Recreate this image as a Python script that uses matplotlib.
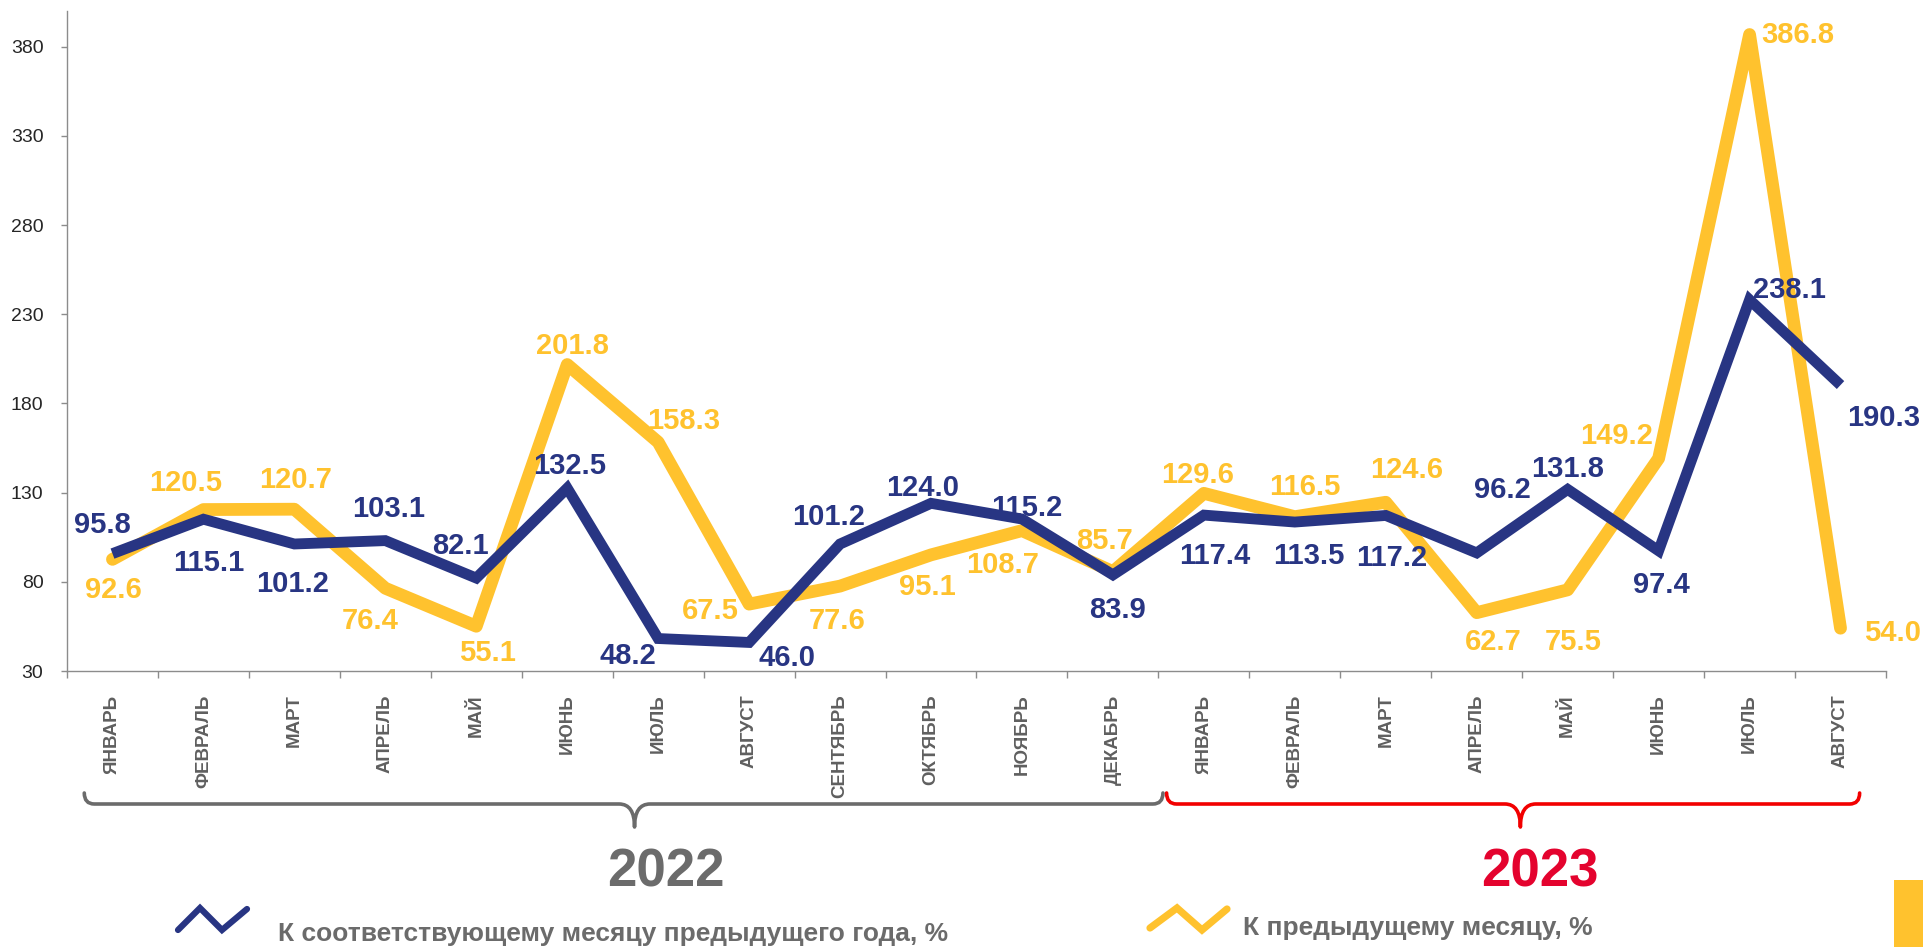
import matplotlib
matplotlib.use("Agg")
from matplotlib import pyplot as plt
from matplotlib.path import Path
from matplotlib.patches import PathPatch, Rectangle
from matplotlib.lines import Line2D
from matplotlib.transforms import blended_transform_factory
import numpy as np

plt.rcParams["font.family"] = ["Liberation Sans", "DejaVu Sans"]

MONTHS = ["ЯНВАРЬ", "ФЕВРАЛЬ", "МАРТ", "АПРЕЛЬ", "МАЙ", "ИЮНЬ", "ИЮЛЬ", "АВГУСТ",
          "СЕНТЯБРЬ", "ОКТЯБРЬ", "НОЯБРЬ", "ДЕКАБРЬ",
          "ЯНВАРЬ", "ФЕВРАЛЬ", "МАРТ", "АПРЕЛЬ", "МАЙ", "ИЮНЬ", "ИЮЛЬ", "АВГУСТ"]
# к соответствующему месяцу предыдущего года, %
YOY = [95.8, 115.1, 101.2, 103.1, 82.1, 132.5, 48.2, 46.0, 101.2, 124.0, 115.2, 83.9,
       117.4, 113.5, 117.2, 96.2, 131.8, 97.4, 238.1, 190.3]
# к предыдущему месяцу, %
MOM = [92.6, 120.5, 120.7, 76.4, 55.1, 201.8, 158.3, 67.5, 77.6, 95.1, 108.7, 85.7,
       129.6, 116.5, 124.6, 62.7, 75.5, 149.2, 386.8, 54.0]
YEARS = ["2022", "2023"]
LEGEND = ["К соответствующему месяцу предыдущего года, %", "К предыдущему месяцу, %"]

BLUE = "#283583"
YELLOW = "#FFC22E"
GRAY = "#6b6b6b"
RED = "#F20000"
RED_TXT = "#E4032E"

W, H = 1924, 947

# label offsets in pixels: (right, down) from the point
YOY_OFF = [(-10, -31), (5, 41), (-2, 38), (3, -34), (-16, -35), (2, -25), (-30, 15),
           (38, 13), (-12, -29), (-8, -18), (5, -14), (5, 33), (11, 38), (14, 31),
           (6, 40), (26, -65), (0, -23), (3, 32), (40, -12), (43, 30)]
MOM_OFF = [(1, 28), (-18, -29), (1, -32), (-15, 30), (11, 24), (5, -21), (25, -24),
           (-39, 4), (-3, 32), (-4, 30), (-19, 32), (-8, -33), (-6, -21), (10, -32),
           (21, -35), (17, 27), (6, 50), (-42, -25), (48, -2), (52, 2)]


def px(x, y):
    """pixel coords (top-left origin) -> figure fraction"""
    return x / W, 1 - y / H


fig = plt.figure(figsize=(W / 100, H / 100), dpi=100)
ax = fig.add_axes([67 / W, 1 - 671 / H, (1886 - 67) / W, (671 - 11) / H])

x = np.arange(len(MONTHS))
ax.plot(x, MOM, color=YELLOW, lw=9.2, solid_capstyle="round",
        solid_joinstyle="round", zorder=2)
ax.plot(x, YOY, color=BLUE, lw=7.8, solid_capstyle="butt",
        solid_joinstyle="miter", zorder=4)

for vals, offs, col in [(MOM, MOM_OFF, YELLOW), (YOY, YOY_OFF, BLUE)]:
    for i, (v, (dx, dy)) in enumerate(zip(vals, offs)):
        ax.annotate(f"{v:.1f}", (i, v), xytext=(dx, -dy - 10.5),
                    textcoords="offset pixels", ha="center", va="baseline",
                    fontsize=21, fontweight="bold", color=col, zorder=3,
                    annotation_clip=False)

ax.set_xlim(-0.5, len(MONTHS) - 0.5)
ax.set_ylim(30, 400)
ax.set_yticks(np.arange(30, 381, 50))
ax.set_xticks(x)
ax.set_xticklabels(MONTHS, rotation=90, fontsize=13.5, fontweight="bold", color="#5f5f5f")
ax.set_xticks(np.arange(-0.5, len(MONTHS)), minor=True)
ax.tick_params(axis="x", which="major", length=0, pad=17)
ax.tick_params(axis="x", which="minor", length=5, width=1, color="#8c8c8c")
ax.tick_params(axis="y", length=4, width=1, color="#8c8c8c", pad=13,
               labelsize=14, labelcolor="#262626")
for s in ["top", "right"]:
    ax.spines[s].set_visible(False)
for s in ["left", "bottom"]:
    ax.spines[s].set_color("#8c8c8c")
    ax.spines[s].set_linewidth(1)

# year braces under the month labels
tr = blended_transform_factory(ax.transData, fig.transFigure)
y_top, y_line, y_tip = 1 - 793 / H, 1 - 804 / H, 1 - 827 / H


def brace(x0, xc, x1, color):
    r, r2 = 0.11, 0.17
    verts = [(x0, y_top), (x0, y_line), (x0 + r, y_line),
             (xc - r2, y_line), (xc, y_line), (xc, y_tip),
             (xc, y_line), (xc + r2, y_line),
             (x1 - r, y_line), (x1, y_line), (x1, y_top)]
    codes = [Path.MOVETO, Path.CURVE3, Path.CURVE3,
             Path.LINETO, Path.CURVE3, Path.CURVE3,
             Path.CURVE3, Path.CURVE3,
             Path.LINETO, Path.CURVE3, Path.CURVE3]
    fig.add_artist(PathPatch(Path(verts, codes), transform=tr, fill=False,
                             edgecolor=color, lw=2.6, joinstyle="round",
                             capstyle="round", clip_on=False))


brace(-0.31, 5.74, 11.55, GRAY)
brace(11.59, 15.48, 19.21, RED)

fig.text(*px(666, 886), YEARS[0], ha="center", va="baseline", fontsize=38,
         fontweight="bold", color=GRAY)
fig.text(*px(1540, 886), YEARS[1], ha="center", va="baseline", fontsize=38,
         fontweight="bold", color=RED_TXT)

# legend
for pts, col, lw in [([(178, 930), (200, 908), (222, 930), (247, 909)], BLUE, 4.5),
                     ([(1150, 928), (1177, 908), (1202, 930), (1227, 909)], YELLOW, 5.2)]:
    fx, fy = zip(*[px(a, b) for a, b in pts])
    fig.add_artist(Line2D(fx, fy, color=col, lw=lw, solid_capstyle="round",
                          solid_joinstyle="miter"))
fig.text(*px(278, 941), LEGEND[0], ha="left", va="baseline", fontsize=19,
         fontweight="bold", color=GRAY)
fig.text(*px(1243, 935), LEGEND[1], ha="left", va="baseline", fontsize=19,
         fontweight="bold", color=GRAY)

fig.add_artist(Rectangle(px(1894, 947), 30 / W, 67 / H, transform=fig.transFigure,
                         color=YELLOW, lw=0))

fig.savefig("out.png", dpi=100)
